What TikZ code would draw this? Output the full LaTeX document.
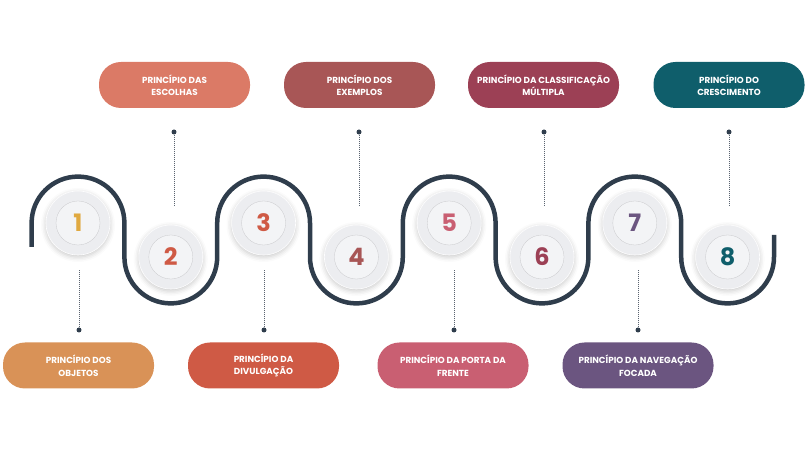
\documentclass[tikz,border=0pt]{standalone}
\usepackage{fontspec}
\setmainfont{Poppins}
\usepackage{tikz}
\usetikzlibrary{positioning, shadows.blur}
\definecolor{waveSlate}{HTML}{2F3D4C}
\definecolor{discOuter}{HTML}{ECEDF0}
\definecolor{discInner}{HTML}{F3F4F6}
\definecolor{pinDark}{HTML}{2F3D4C}
\definecolor{guideGray}{HTML}{5A6470}
\definecolor{boxOrange}{HTML}{D99257}
\definecolor{boxSalmon}{HTML}{DB7A66}
\definecolor{boxRed}{HTML}{CF5A45}
\definecolor{boxBrick}{HTML}{A85656}
\definecolor{boxRose}{HTML}{C95F72}
\definecolor{boxWine}{HTML}{9C4055}
\definecolor{boxPlum}{HTML}{6B5580}
\definecolor{boxTeal}{HTML}{0F5E6B}
\definecolor{numGold}{HTML}{E0A940}

\begin{document}
\begin{tikzpicture}[
  x=1pt, y=1pt,
  every node/.style={font=\bfseries},
  wave/.style={draw=waveSlate, line width=4.5pt},
  disc/.style={
    circle, minimum size=64pt, inner sep=0pt,
    fill=discOuter, draw=white!90!discOuter, line width=0.6pt,
    blur shadow={shadow xshift=0pt, shadow yshift=-2pt,
      shadow blur radius=5pt, shadow opacity=22}
  },
  core/.style={
    circle, minimum size=44pt, inner sep=0pt,
    fill=discInner, draw=discOuter!85!black, line width=0.3pt,
    text=#1, font=\fontsize{24}{24}\selectfont\bfseries
  },
  label/.style={
    rounded corners=22pt, minimum width=151pt, minimum height=46pt,
    fill=#1, text=white, align=center,
    font=\fontsize{8.8}{12.5}\selectfont\bfseries
  },
  pin/.style={circle, fill=pinDark, minimum size=5pt, inner sep=0pt},
  guide/.style={draw=guideGray, line width=0.7pt, dash pattern=on 1pt off 1pt},
]
\useasboundingbox (0,0) rectangle (809,455);

% === WAVE ===
\draw[wave] (31.6,208) -- (31.6,232)
  arc[start angle=180, end angle=0, radius=46.4] -- ++(0,-34)
  arc[start angle=180, end angle=360, radius=46.4] -- ++(0,34)
  arc[start angle=180, end angle=0, radius=46.4] -- ++(0,-34)
  arc[start angle=180, end angle=360, radius=46.4] -- ++(0,34)
  arc[start angle=180, end angle=0, radius=46.4] -- ++(0,-34)
  arc[start angle=180, end angle=360, radius=46.4] -- ++(0,34)
  arc[start angle=180, end angle=0, radius=46.4] -- ++(0,-34)
  arc[start angle=180, end angle=360, radius=46.4] -- ++(0,22);

% === DISCS ===
\foreach \i/\x/\y/\c in {1/78/232/numGold, 2/170.8/198/boxRed,
    3/263.6/232/boxRed, 4/356.4/198/boxBrick, 5/449.2/232/boxRose,
    6/542/198/boxWine, 7/634.8/232/boxPlum, 8/727.6/198/boxTeal} {
  \node[disc] (n-\i) at (\x,\y) {};
  \node[core=\c] at (n-\i) {\i};
}

% === TOP LABELS ===
\node[label=boxSalmon] (b-2) at (174.5,370) {PRINCÍPIO DAS\\ESCOLHAS};
\node[label=boxBrick] (b-4) at (359.5,370) {PRINCÍPIO DOS\\EXEMPLOS};
\node[label=boxWine] (b-6) at (543.5,370) {PRINCÍPIO DA CLASSIFICAÇÃO\\MÚLTIPLA};
\node[label=boxTeal] (b-8) at (729,370) {PRINCÍPIO DO\\CRESCIMENTO};

% === BOTTOM LABELS ===
\node[label=boxOrange] (b-1) at (78.5,89.5) {PRINCÍPIO DOS\\OBJETOS};
\node[label=boxRed] (b-3) at (263.5,89.5) {PRINCÍPIO DA\\DIVULGAÇÃO};
\node[label=boxRose] (b-5) at (453,89.5) {PRINCÍPIO DA PORTA DA\\FRENTE};
\node[label=boxPlum] (b-7) at (638,89.5) {PRINCÍPIO DA NAVEGAÇÃO\\FOCADA};

% Pins and guides (top)
\foreach \i/\x in {2/174, 4/359, 6/544, 8/729} {
  \node[pin] (d-\i) at (\x,323) {};
  \coordinate (e-\i) at (\x,250);
  \draw[guide] (d-\i) -- (e-\i);
}

% Pins and guides (bottom)
\foreach \i/\x in {1/79, 3/264, 5/454, 7/638} {
  \node[pin] (d-\i) at (\x,125) {};
  \coordinate (e-\i) at (\x,185);
  \draw[guide] (d-\i) -- (e-\i);
}

\end{tikzpicture}
\end{document}
